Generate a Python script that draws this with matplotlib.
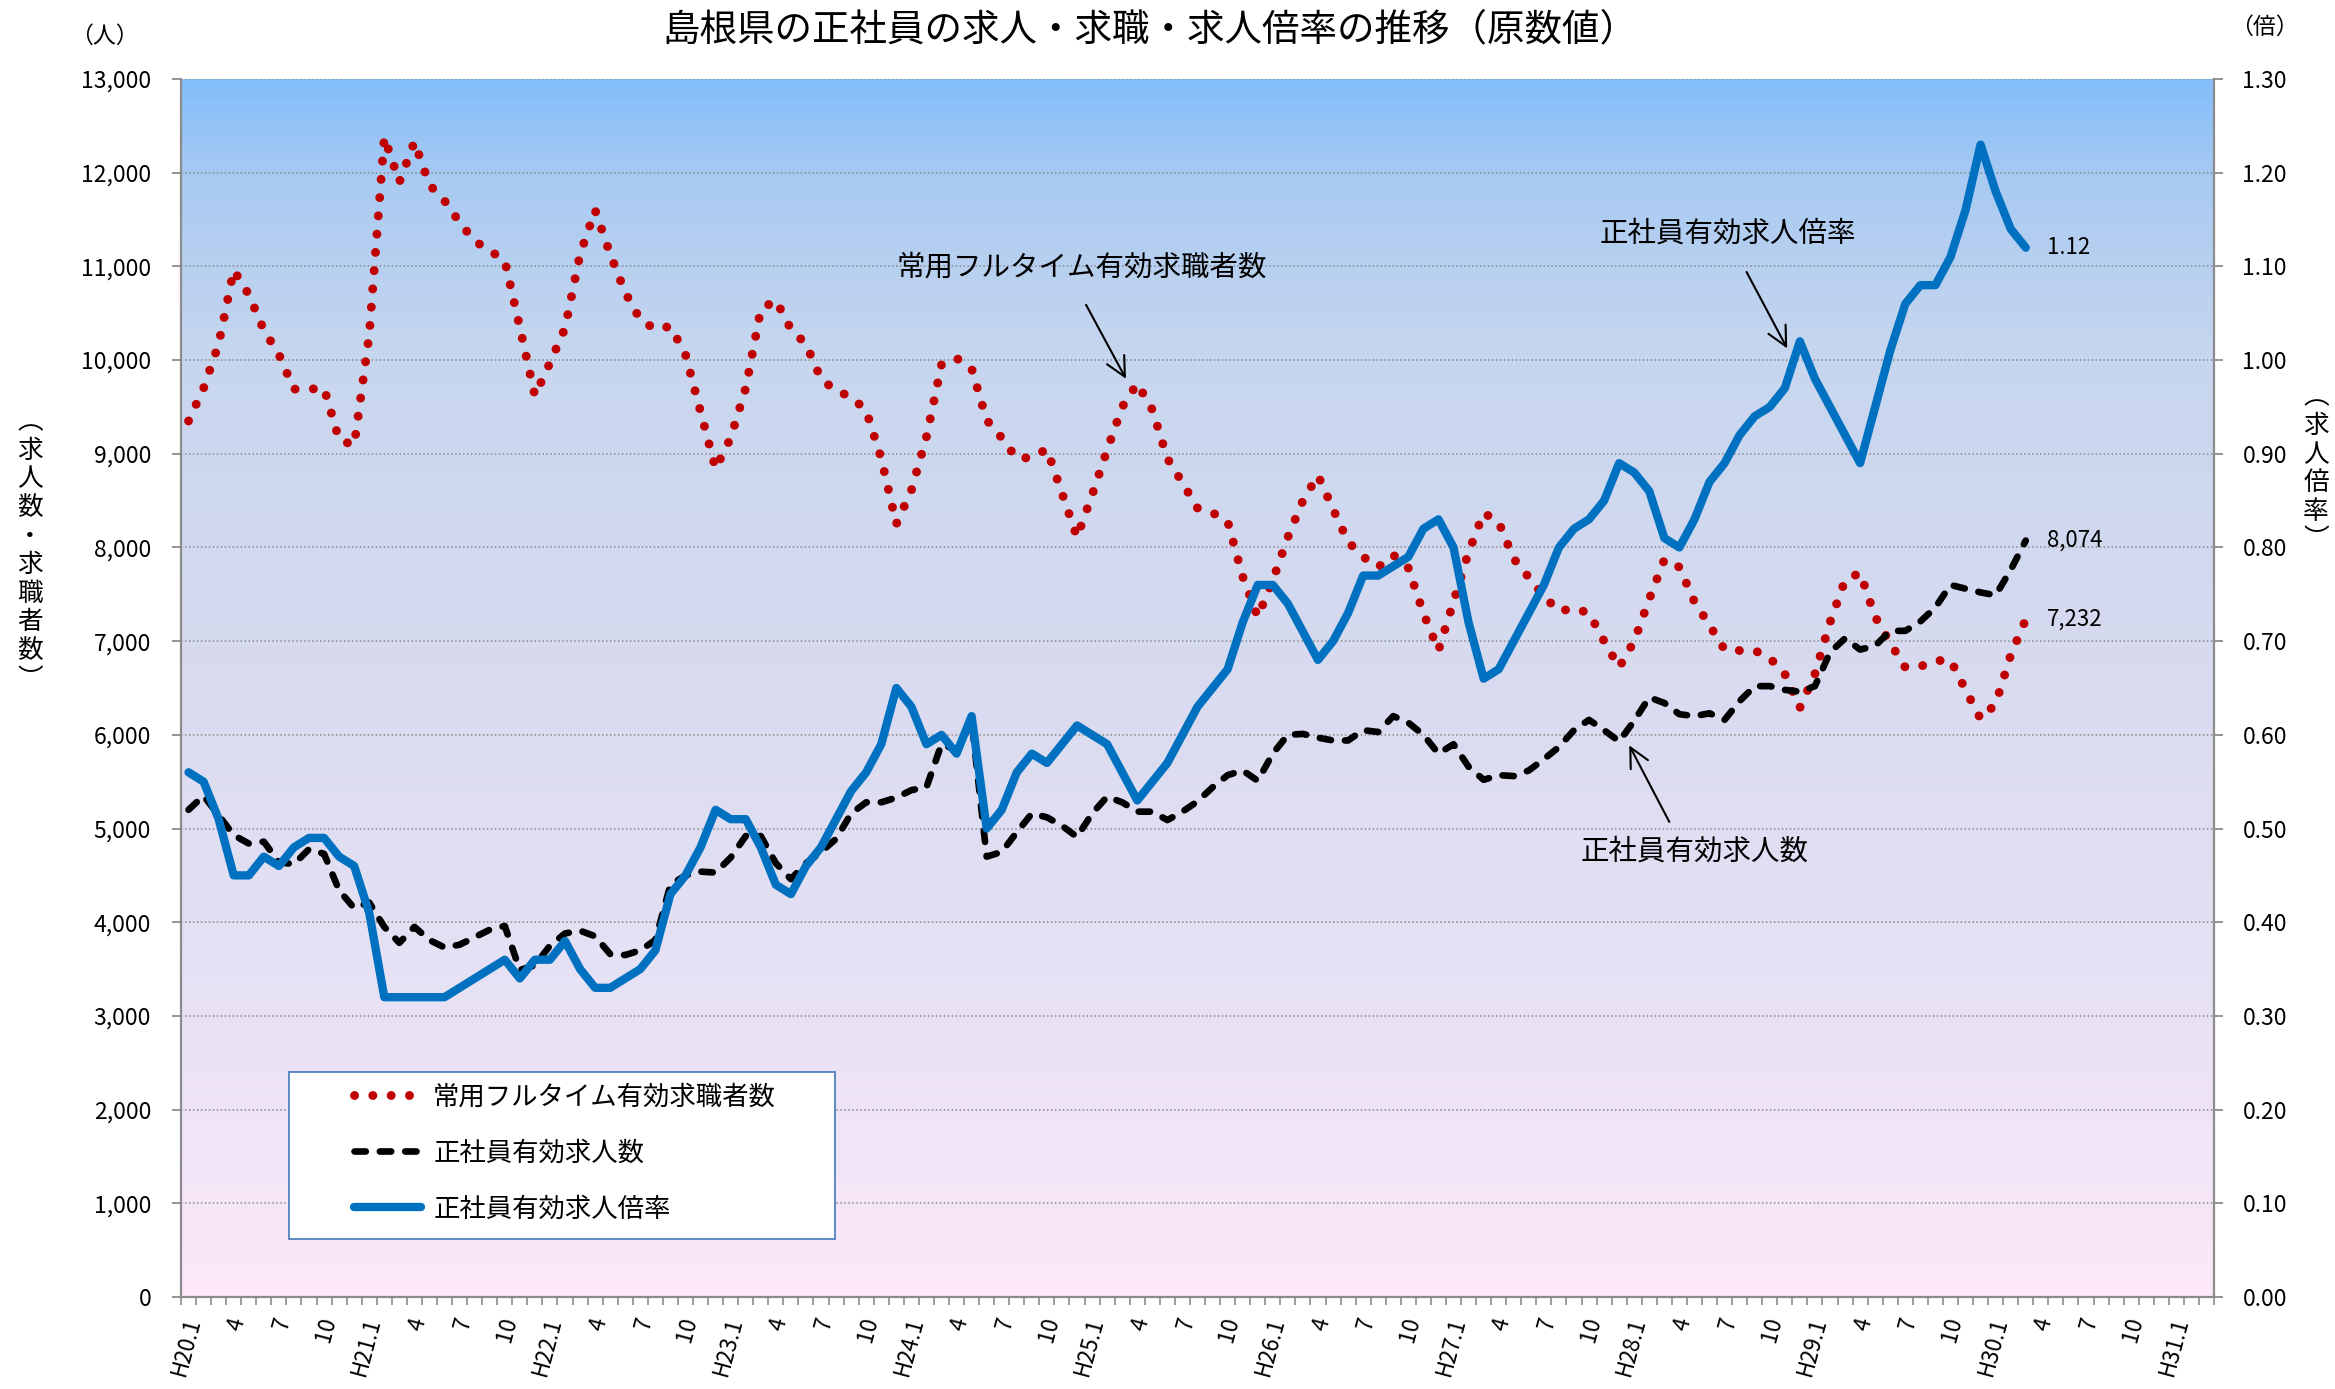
import numpy as np
import matplotlib
matplotlib.use('Agg')
import matplotlib.pyplot as plt
import matplotlib.transforms as mtransforms
from matplotlib.colors import LinearSegmentedColormap
from matplotlib.ticker import StrMethodFormatter, FixedLocator
from matplotlib.patches import Rectangle

plt.rcParams['font.family'] = ['Noto Sans CJK JP', 'DejaVu Sans']

# ---------------- data (monthly, H20.1 - H30.3) ----------------
years = list(range(20, 32))          # H20 ... H31 on the category axis
n_categories = 135                   # H20.1 ... H31.3

seekers = [  # 常用フルタイム有効求職者数
    9350, 9700, 10170, 10960, 10700, 10320, 10060, 9690, 9690, 9700, 9150, 9090,
    10270, 12380, 11900, 12330, 11870, 11700, 11470, 11270, 11170, 11060, 10350, 9620,
    9970, 10340, 11130, 11600, 11130, 10720, 10430, 10330, 10360, 10060, 9450, 8840,
    9170, 9700, 10540, 10640, 10330, 10170, 9800, 9670, 9610, 9460, 8950, 8250,
    8610, 9180, 9950, 10020, 9910, 9360, 9170, 8950, 8960, 9050, 8580, 8110,
    8560, 9040, 9500, 9750, 9470, 8950, 8690, 8420, 8370, 8280, 7690, 7260,
    7650, 8110, 8500, 8770, 8410, 8060, 7900, 7790, 7920, 7780, 7300, 6900,
    7420, 7950, 8370, 8270, 7880, 7680, 7480, 7320, 7350, 7300, 7000, 6720,
    7000, 7450, 7870, 7790, 7420, 7170, 6910, 6900, 6900, 6820, 6650, 6290,
    6650, 7200, 7650, 7730, 7260, 6980, 6720, 6730, 6790, 6800, 6480, 6170,
    6330, 6850, 7232]

openings = [  # 正社員有効求人数
    5200, 5350, 5140, 4930, 4840, 4860, 4640, 4620, 4780, 4730, 4340, 4150,
    4210, 3950, 3780, 3950, 3810, 3730, 3760, 3840, 3920, 3960, 3490, 3540,
    3750, 3880, 3910, 3850, 3660, 3650, 3700, 3810, 4400, 4500, 4540, 4530,
    4690, 4920, 4920, 4630, 4460, 4630, 4750, 4890, 5160, 5280, 5280, 5330,
    5410, 5440, 5900, 5840, 6150, 4700, 4750, 4960, 5160, 5120, 5030, 4910,
    5160, 5340, 5280, 5180, 5180, 5090, 5180, 5290, 5440, 5570, 5620, 5510,
    5800, 6000, 6010, 5970, 5940, 5940, 6050, 6030, 6200, 6130, 6000, 5800,
    5900, 5660, 5520, 5570, 5560, 5620, 5740, 5870, 6050, 6160, 6050, 5930,
    6150, 6400, 6340, 6220, 6200, 6230, 6160, 6360, 6520, 6520, 6480, 6460,
    6520, 6880, 7030, 6910, 6950, 7110, 7110, 7210, 7360, 7600, 7560, 7520,
    7490, 7760, 8074]

ratio = [  # 正社員有効求人倍率
    0.56, 0.55, 0.51, 0.45, 0.45, 0.47, 0.46, 0.48, 0.49, 0.49, 0.47, 0.46,
    0.41, 0.32, 0.32, 0.32, 0.32, 0.32, 0.33, 0.34, 0.35, 0.36, 0.34, 0.36,
    0.36, 0.38, 0.35, 0.33, 0.33, 0.34, 0.35, 0.37, 0.43, 0.45, 0.48, 0.52,
    0.51, 0.51, 0.48, 0.44, 0.43, 0.46, 0.48, 0.51, 0.54, 0.56, 0.59, 0.65,
    0.63, 0.59, 0.60, 0.58, 0.62, 0.50, 0.52, 0.56, 0.58, 0.57, 0.59, 0.61,
    0.60, 0.59, 0.56, 0.53, 0.55, 0.57, 0.60, 0.63, 0.65, 0.67, 0.72, 0.76,
    0.76, 0.74, 0.71, 0.68, 0.70, 0.73, 0.77, 0.77, 0.78, 0.79, 0.82, 0.83,
    0.80, 0.72, 0.66, 0.67, 0.70, 0.73, 0.76, 0.80, 0.82, 0.83, 0.85, 0.89,
    0.88, 0.86, 0.81, 0.80, 0.83, 0.87, 0.89, 0.92, 0.94, 0.95, 0.97, 1.02,
    0.98, 0.95, 0.92, 0.89, 0.95, 1.01, 1.06, 1.08, 1.08, 1.11, 1.16, 1.23,
    1.18, 1.14, 1.12]

series_names = ['常用フルタイム有効求職者数', '正社員有効求人数', '正社員有効求人倍率']
title = '島根県の正社員の求人・求職・求人倍率の推移（原数値）'

# category labels: every third month
cat_labels = []
for y in years:
    for m in range(1, 13):
        if len(cat_labels) >= n_categories:
            break
        if m == 1:
            cat_labels.append(f'H{y}.1')
        elif m in (4, 7, 10):
            cat_labels.append(str(m))
        else:
            cat_labels.append('')

# ---------------- figure ----------------
W, H = 2335, 1389
fig = plt.figure(figsize=(W / 100, H / 100), dpi=100)
L, R, T, B = 181, 2214, 79, 1297
ax = fig.add_axes([L / W, 1 - B / H, (R - L) / W, (B - T) / H])
ax2 = ax.twinx()

# background gradient
stops = [(0.0, '#84BEFA'), (0.08, '#A9CAF2'), (0.22, '#C6D6EE'),
         (0.5, '#D9DBF0'), (0.78, '#E9E2F5'), (1.0, '#FCE8F9')]
cmap = LinearSegmentedColormap.from_list('bg', stops)
ax.imshow(np.linspace(0, 1, 256).reshape(-1, 1), cmap=cmap, aspect='auto',
          extent=(0, n_categories, 0, 13000), zorder=0, interpolation='bilinear')

xpos = np.arange(len(seekers)) + 0.5
l_red, = ax.plot(xpos, seekers, color='#C00000', lw=6.4,
                 linestyle=(0, (0.01, 2.05)), dash_capstyle='round',
                 solid_joinstyle='round', zorder=3, label=series_names[0])
l_blk, = ax.plot(xpos, openings, color='black', lw=4.8,
                 linestyle=(0, (1.7, 2.1)), dash_capstyle='round',
                 dash_joinstyle='round', zorder=4, label=series_names[1])
l_blu, = ax2.plot(xpos, ratio, color='#0070C0', lw=6.0,
                  solid_joinstyle='round', solid_capstyle='round',
                  zorder=5, label=series_names[2])

ax.set_xlim(0, n_categories)
ax.set_ylim(0, 13000)
ax2.set_ylim(0, 1.30)

gray = '#8C8C8C'
ax.set_yticks(np.arange(0, 13001, 1000))
ax.yaxis.set_major_formatter(StrMethodFormatter('{x:,.0f}'))
ax2.set_yticks(np.arange(0, 1.301, 0.1))
ax2.yaxis.set_major_formatter(StrMethodFormatter('{x:.2f}'))
ax.tick_params(axis='y', direction='out', length=6.5, width=1.3, color=gray,
               pad=15, labelsize=16.5)
ax2.tick_params(axis='y', direction='out', length=6.5, width=1.3, color=gray,
                pad=14, labelsize=16.5)

ax.yaxis.grid(True, linestyle=(0, (1, 1.6)), color='#8A8A8A', lw=1.1)
ax.set_axisbelow(False)
for gl in ax.get_ygridlines():
    gl.set_zorder(1)

# x axis
ax.set_xticks(np.arange(n_categories) + 0.5)
ax.set_xticklabels(cat_labels, rotation=75, ha='right', va='center',
                   rotation_mode='anchor', fontsize=16)
ax.tick_params(axis='x', which='major', length=0, pad=15)
shift = mtransforms.ScaledTranslation(0.05, 0, fig.dpi_scale_trans)
for lbl in ax.get_xticklabels():
    lbl.set_transform(lbl.get_transform() + shift)
ax.xaxis.set_minor_locator(FixedLocator(np.arange(0, n_categories + 1)))
ax.tick_params(axis='x', which='minor', direction='out', length=5.5,
               width=1.2, color=gray)

for sp in ('top', 'right'):
    ax.spines[sp].set_visible(False)
for sp in ('top', 'left', 'bottom'):
    ax2.spines[sp].set_visible(False)
for sp in ('left', 'bottom'):
    ax.spines[sp].set_color(gray)
    ax.spines[sp].set_linewidth(1.6)
ax2.spines['right'].set_color(gray)
ax2.spines['right'].set_linewidth(1.6)

# data labels at the end
ax2.annotate(f'{ratio[-1]:.2f}', xy=(xpos[-1], ratio[-1]), xytext=(15, 0),
             textcoords='offset points', va='center', ha='left', fontsize=16)
ax.annotate(f'{openings[-1]:,}', xy=(xpos[-1], openings[-1]), xytext=(15, 0),
            textcoords='offset points', va='center', ha='left', fontsize=16)
ax.annotate(f'{seekers[-1]:,}', xy=(xpos[-1], seekers[-1]), xytext=(15, 0),
            textcoords='offset points', va='center', ha='left', fontsize=16)

# callouts
arrow_kw = dict(arrowstyle='->,head_length=0.7,head_width=0.35', color='black',
                lw=1.5, mutation_scale=20, shrinkA=0, shrinkB=0)
callouts = [
    (series_names[0], (59.8, 10990), (60.1, 10590), (62.75, 9800)),
    (series_names[2], (102.7, 11350), (103.96, 10940), (106.66, 10124)),
    (series_names[1], (100.5, 4750), (98.83, 5071), (96.17, 5888)),
]
for txt, tpos, tail, head in callouts:
    ax.text(tpos[0], tpos[1], txt, ha='center', va='center', fontsize=20.5,
            zorder=6)
    ax.annotate('', xy=head, xytext=tail, arrowprops=arrow_kw, zorder=6)

# title and unit labels
fig.text(1150 / W, 1 - 30 / H, title, ha='center', va='center', fontsize=27)
fig.text(104 / W, 1 - 36 / H, '（人）', ha='center', va='center', fontsize=16.5)
fig.text(2264 / W, 1 - 27 / H, '（倍）', ha='center', va='center', fontsize=16.5)
fig.text(30 / W, 1 - 551 / H, '\n'.join('︵求人数・求職者数︶'), ha='center',
         va='center', fontsize=18.5, linespacing=1.13)
fig.text(2316 / W, 1 - 469 / H, '\n'.join('︵求人倍率︶'), ha='center',
         va='center', fontsize=18.5, linespacing=1.13)

# legend
fig.patches.append(Rectangle((289 / W, 1 - 1239 / H), 546 / W, 167 / H,
                             transform=fig.transFigure, facecolor='white',
                             edgecolor='#4F81BD', lw=1.3, zorder=1))
fig.legend(handles=[l_red, l_blk, l_blu], loc='center left',
           bbox_to_anchor=(354 / W, 1 - 1153 / H), frameon=False,
           fontsize=19, handlelength=2.55, handletextpad=0.45,
           borderpad=0, borderaxespad=0, labelspacing=1.1)

fig.savefig('out.png', dpi=100)
